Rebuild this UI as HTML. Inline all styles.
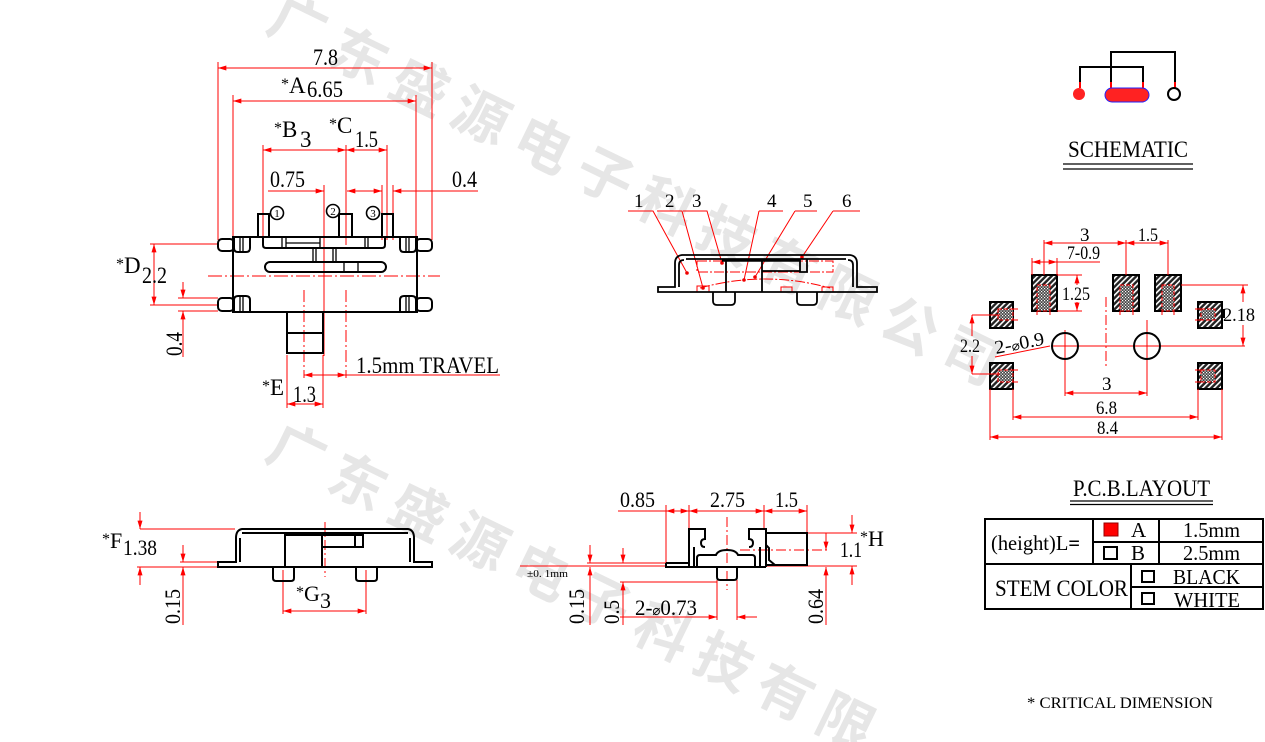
<!DOCTYPE html>
<html><head><meta charset="utf-8">
<style>
html,body{margin:0;padding:0;background:#fff;width:1265px;height:742px;overflow:hidden}
svg{display:block}
.t{font-family:"Liberation Serif","DejaVu Serif",serif;fill:#000}
.wm{font-family:"Noto Sans CJK SC","WenQuanYi Zen Hei",sans-serif;font-weight:700;fill:#e6e6e6}
</style></head><body>
<svg width="1265" height="742" viewBox="0 0 1265 742" xmlns="http://www.w3.org/2000/svg">
<defs>
<marker id="ar" viewBox="0 0 10 6" refX="10" refY="3" markerWidth="9" markerHeight="5" orient="auto-start-reverse" markerUnits="userSpaceOnUse"><path d="M0,0L10,3L0,6z" fill="#f00"/></marker>
<pattern id="hat" width="4" height="4" patternUnits="userSpaceOnUse" patternTransform="rotate(45)"><rect width="4" height="4" fill="#222"/><rect width="1.6" height="4" fill="#fff"/></pattern>
<pattern id="xh" width="3" height="3" patternUnits="userSpaceOnUse"><rect width="3" height="3" fill="#444"/><rect width="1.2" height="1.2" fill="#fff"/><rect x="1.5" y="1.5" width="1.2" height="1.2" fill="#fff"/></pattern>
</defs>

<!-- watermark -->
<g class="wm" font-size="56" text-anchor="middle">
<text transform="translate(298,24) rotate(26)" y="20">广</text>
<text transform="translate(359,56) rotate(26)" y="20">东</text>
<text transform="translate(420,87) rotate(26)" y="20">盛</text>
<text transform="translate(481,116) rotate(26)" y="20">源</text>
<text transform="translate(543,145) rotate(26)" y="20">电</text>
<text transform="translate(605,176) rotate(26)" y="20">子</text>
<text transform="translate(666,206) rotate(26)" y="20">科</text>
<text transform="translate(727,236) rotate(26)" y="20">技</text>
<text transform="translate(788,266) rotate(26)" y="20">有</text>
<text transform="translate(849,296) rotate(26)" y="20">限</text>
<text transform="translate(910,326) rotate(26)" y="20">公</text>
<text transform="translate(971,356) rotate(26)" y="20">司</text>
<text transform="translate(297,452) rotate(26)" y="20">广</text>
<text transform="translate(358,482) rotate(26)" y="20">东</text>
<text transform="translate(419,512) rotate(26)" y="20">盛</text>
<text transform="translate(480,542) rotate(26)" y="20">源</text>
<text transform="translate(541,572) rotate(26)" y="20">电</text>
<text transform="translate(602,602) rotate(26)" y="20">子</text>
<text transform="translate(663,632) rotate(26)" y="20">科</text>
<text transform="translate(724,662) rotate(26)" y="20">技</text>
<text transform="translate(785,692) rotate(26)" y="20">有</text>
<text transform="translate(846,722) rotate(26)" y="20">限</text>
</g>

<!-- ================= TOP-LEFT VIEW ================= -->
<g stroke="#f00" stroke-width="1" fill="none">
<path d="M218,62V240M432,62V240M233,95V238M416,95V238M263,145V240M346,145V245M387,145V240M382,185V240M393,185V240M324,185V356"/>
<path d="M218,68H432" marker-start="url(#ar)" marker-end="url(#ar)"/>
<path d="M233,101H416" marker-start="url(#ar)" marker-end="url(#ar)"/>
<path d="M263,150H346" marker-start="url(#ar)" marker-end="url(#ar)"/>
<path d="M346,150H387" marker-start="url(#ar)" marker-end="url(#ar)"/>
<path d="M268,191H324" marker-end="url(#ar)"/>
<path d="M347,191H382" marker-start="url(#ar)" marker-end="url(#ar)"/>
<path d="M478,191H393" marker-end="url(#ar)"/>
<path d="M208,276H440" stroke-dasharray="14 3 2 3"/>
<path d="M304,290V378M346,290V378" stroke-dasharray="12 3 2 3"/>
<path d="M304,375H346" marker-start="url(#ar)" marker-end="url(#ar)"/>
<path d="M346,375H500"/>
<path d="M287,355V408M323,355V408"/>
<path d="M287,404H323" marker-start="url(#ar)" marker-end="url(#ar)"/>
<path d="M150,244H218M150,305H218M178,298H218M178,311H218"/>
<path d="M154,244V305" marker-start="url(#ar)" marker-end="url(#ar)"/>
<path d="M183,282V298" marker-end="url(#ar)"/>
<path d="M183,357V311" marker-end="url(#ar)"/>
</g>
<g stroke="#000" stroke-width="2" fill="none">
<rect x="233" y="237" width="184" height="75"/>
<rect x="218" y="239" width="16" height="12" rx="4"/>
<rect x="416" y="239" width="16" height="12" rx="4"/>
<rect x="218" y="298" width="16" height="13" rx="4"/>
<rect x="416" y="298" width="16" height="13" rx="4"/>
<path d="M234,238V248Q234,252 238,252H246Q250,252 250,248V238"/>
<path d="M400,238V248Q400,252 404,252H412Q416,252 416,248V238"/>
<path d="M234,312V300Q234,296 238,296H246Q250,296 250,300V312"/>
<path d="M400,312V300Q400,296 404,296H412Q416,296 416,300V312"/>
<path d="M263,237V245Q263,248 266,248H382Q385,248 385,245V237"/>
<rect x="265" y="262" width="121" height="10" rx="5"/>
<path d="M258,237V214H269V237M339,237V214H352V237M382,237V214H393V237"/>
<rect x="287" y="312" width="36" height="41"/>
<path d="M287,333H323"/>
</g>
<g stroke="#000" stroke-width="1.3" fill="none">
<path d="M240,238V252M243,238V252M406,238V252M409,238V252M240,296V312M243,296V312M406,296V312M409,296V312"/>
<path d="M282,237V248M286,237V248M320,237V248M365,237V248M368,237V248M286,243H320"/>
<path d="M313,248V262M316,248V262M333,248V262M336,248V262M344,262V272M358,262V272"/>
</g>
<g stroke="#000" stroke-width="1.6" fill="#fff">
<circle cx="277" cy="213" r="6.5"/>
<circle cx="333" cy="211" r="6.5"/>
<circle cx="373" cy="213" r="6.5"/>
</g>
<g class="t" font-size="11" text-anchor="middle">
<text x="277" y="217">1</text><text x="333" y="215">2</text><text x="373" y="217">3</text>
</g>
<g class="t" font-size="23">
<text x="313" y="65" textLength="25" lengthAdjust="spacingAndGlyphs">7.8</text>
<text x="281" y="93"><tspan font-size="16" dy="-4">*</tspan><tspan dy="4">A</tspan></text>
<text x="307" y="97" textLength="36" lengthAdjust="spacingAndGlyphs">6.65</text>
<text x="274" y="137"><tspan font-size="16" dy="-4">*</tspan><tspan dy="4">B</tspan></text>
<text x="300" y="147">3</text>
<text x="329" y="133"><tspan font-size="16" dy="-4">*</tspan><tspan dy="4">C</tspan></text>
<text x="355" y="147" textLength="23" lengthAdjust="spacingAndGlyphs">1.5</text>
<text x="270" y="187" textLength="35" lengthAdjust="spacingAndGlyphs">0.75</text>
<text x="452" y="187" textLength="25" lengthAdjust="spacingAndGlyphs">0.4</text>
<text x="116" y="273"><tspan font-size="16" dy="-4">*</tspan><tspan dy="4">D</tspan></text>
<text x="142" y="283" textLength="25" lengthAdjust="spacingAndGlyphs">2.2</text>
<text x="356" y="373" textLength="143" lengthAdjust="spacingAndGlyphs">1.5mm TRAVEL</text>
<text x="262" y="395"><tspan font-size="16" dy="-4">*</tspan><tspan dy="4">E</tspan></text>
<text x="293" y="402" textLength="23" lengthAdjust="spacingAndGlyphs">1.3</text>
<text transform="translate(182,356) rotate(-90)" textLength="24" lengthAdjust="spacingAndGlyphs">0.4</text>
</g>

<!-- ================= TOP-MIDDLE VIEW ================= -->
<g stroke="#f00" stroke-width="1" fill="none">
<path d="M628,211H653L687,273M657,211H682L703,288M683,211H707L722,263M759,211H783M759,211L744,280M795,211H817M795,211L755,277M833,211H860M833,211L802,257"/>
<rect x="697" y="261" width="136" height="11" stroke-dasharray="10 2 2 2"/>
<path d="M700,288Q765,270 830,288" stroke-dasharray="10 2 2 2"/>
<rect x="697" y="286" width="12" height="6"/>
<rect x="781" y="287" width="11" height="5"/>
<rect x="822" y="287" width="11" height="5"/>
</g>
<g fill="#e00">
<circle cx="687" cy="273" r="1.8"/><circle cx="703" cy="288" r="1.8"/><circle cx="722" cy="263" r="1.8"/>
<circle cx="744" cy="280" r="1.8"/><circle cx="755" cy="277" r="1.8"/><circle cx="802" cy="257" r="1.8"/>
</g>
<g stroke="#000" stroke-width="1.8" fill="none">
<path d="M658,287H675V263Q675,256 682,255H850Q857,256 857,263V287H877V292H658Z"/>
<path d="M686,259H846M679,287V265Q679,260 684,260M853,287V265Q853,260 848,260"/>
<path d="M726,259V292M762,259V292M762,271H800M800,259V272H807V259"/>
<path d="M713,292V301Q713,305 717,305H731Q735,305 735,301V292"/>
<path d="M797,292V301Q797,305 801,305H813Q817,305 817,301V292"/>
</g>
<path d="M722,260.5H800" stroke="#000" stroke-width="2.5"/>
<g class="t" font-size="19">
<text x="634" y="207">1</text><text x="665" y="207">2</text><text x="692" y="207">3</text>
<text x="767" y="207">4</text><text x="803" y="207">5</text><text x="842" y="207">6</text>
</g>

<!-- ================= SCHEMATIC ================= -->
<path d="M1080,82V67H1143V82M1111,82V52H1175V82" stroke="#000" stroke-width="2" fill="none"/>
<path d="M1080,82V88M1111,82V88M1143,82V88M1175,82V88" stroke="#f00" stroke-width="2"/>
<circle cx="1079" cy="94" r="6" fill="#f22"/>
<rect x="1105" y="88" width="44" height="14" rx="7" fill="#f22" stroke="#22f" stroke-width="1"/>
<circle cx="1174" cy="94" r="6" fill="none" stroke="#000" stroke-width="2"/>
<text class="t" x="1068" y="157" font-size="23" textLength="120" lengthAdjust="spacingAndGlyphs">SCHEMATIC</text>
<path d="M1063,164H1193M1063,169H1193" stroke="#000" stroke-width="1.3"/>

<!-- ================= PCB LAYOUT ================= -->
<g stroke="#000" stroke-width="2" fill="url(#hat)">
<rect x="1032" y="275" width="25" height="36"/>
<rect x="1113" y="275" width="26" height="36"/>
<rect x="1155" y="275" width="26" height="36"/>
<rect x="990" y="302" width="23" height="26"/>
<rect x="1198" y="302" width="24" height="26"/>
<rect x="990" y="363" width="23" height="26"/>
<rect x="1198" y="363" width="24" height="26"/>
</g>
<g stroke="#f00" stroke-width="1" fill="url(#xh)" stroke-dasharray="4 2">
<rect x="1037" y="285" width="13" height="26"/>
<rect x="1120" y="285" width="13" height="26"/>
<rect x="1162" y="285" width="12" height="26"/>
<rect x="998" y="309" width="15" height="11"/>
<rect x="1201" y="309" width="14" height="11"/>
<rect x="998" y="370" width="15" height="12"/>
<rect x="1201" y="370" width="14" height="12"/>
</g>
<rect x="1222" y="309" width="3" height="9" fill="#000"/>
<g stroke="#f00" stroke-width="1" fill="none">
<path d="M1037,311V315M1050,311V315M1120,311V315M1133,311V315M1162,311V315M1174,311V315M1013,309H1018M1013,320H1018M1201,309H1195M1201,320H1195M1013,370H1018M1013,382H1018M1201,370H1195M1201,382H1195"/>
<path d="M1044,240V275M1126,240V275M1168,240V275"/>
<path d="M1044,243H1126" marker-start="url(#ar)" marker-end="url(#ar)"/>
<path d="M1126,243H1168" marker-start="url(#ar)" marker-end="url(#ar)"/>
<path d="M1032,258V275M1057,258V275"/>
<path d="M1032,262H1057" marker-start="url(#ar)" marker-end="url(#ar)"/>
<path d="M1057,262H1100"/>
<path d="M1057,275H1082M1057,311H1082"/>
<path d="M1077,285V275" marker-end="url(#ar)"/>
<path d="M1077,302V311" marker-end="url(#ar)"/>
<path d="M1181,285H1248"/>
<path d="M1243,302V285" marker-end="url(#ar)"/>
<path d="M1243,325V346" marker-end="url(#ar)"/>
<path d="M1052,346H1245"/>
<path d="M1065,330V396M1147,320V396"/>
<path d="M1106,297V367" stroke-dasharray="10 3 2 3"/>
<path d="M972,315H1000M972,374H1000"/>
<path d="M972,336V315" marker-end="url(#ar)"/>
<path d="M972,356V374" marker-end="url(#ar)"/>
<path d="M995,357L1050,346"/>
<path d="M1065,393H1147" marker-start="url(#ar)" marker-end="url(#ar)"/>
<path d="M1013,389V420M1198,389V420M990,389V440M1222,389V440"/>
<path d="M1013,417H1198" marker-start="url(#ar)" marker-end="url(#ar)"/>
<path d="M990,437H1222" marker-start="url(#ar)" marker-end="url(#ar)"/>
</g>
<g stroke="#000" stroke-width="2" fill="none">
<circle cx="1065" cy="346" r="13"/>
<circle cx="1147" cy="346" r="13"/>
</g>
<g class="t" font-size="19">
<text x="1080" y="241">3</text>
<text x="1138" y="241" textLength="20" lengthAdjust="spacingAndGlyphs">1.5</text>
<text x="1067" y="259" textLength="33" lengthAdjust="spacingAndGlyphs">7-0.9</text>
<text x="1062" y="300" textLength="28" lengthAdjust="spacingAndGlyphs">1.25</text>
<text x="1223" y="321" textLength="32" lengthAdjust="spacingAndGlyphs">2.18</text>
<text x="960" y="352" textLength="20" lengthAdjust="spacingAndGlyphs">2.2</text>
<text transform="translate(996,354) rotate(-11)" textLength="50" lengthAdjust="spacingAndGlyphs">2-<tspan font-family="DejaVu Sans" font-size="13">⌀</tspan>0.9</text>
<text x="1102" y="390">3</text>
<text x="1096" y="414" textLength="21" lengthAdjust="spacingAndGlyphs">6.8</text>
<text x="1097" y="434" textLength="21" lengthAdjust="spacingAndGlyphs">8.4</text>
</g>

<!-- ================= BOTTOM-LEFT VIEW ================= -->
<g stroke="#f00" stroke-width="1" fill="none">
<path d="M140,529H235M137,567H237M180,562H218"/>
<path d="M140,512V529" marker-end="url(#ar)"/>
<path d="M140,585V567" marker-end="url(#ar)"/>
<path d="M183,545V562" marker-end="url(#ar)"/>
<path d="M183,625V567" marker-end="url(#ar)"/>
<path d="M283,570V614M366,570V614"/>
<path d="M283,611H366" marker-start="url(#ar)" marker-end="url(#ar)"/>
<path d="M325,522V577" stroke-dasharray="10 3 2 3"/>
</g>
<g stroke="#000" stroke-width="2" fill="none">
<path d="M218,562H236V538Q236,530 242,529H408Q414,530 414,538V562H432V567H218Z"/>
<path d="M242,533H408M240,562V538M410,562V538"/>
<rect x="285" y="535" width="37" height="32"/>
<path d="M322,535H363V547H322M355,535V547"/>
<path d="M273,567V578Q273,581 276,581H291Q294,581 294,578V567"/>
<path d="M356,567V578Q356,581 359,581H374Q377,581 377,578V567"/>
</g>
<g class="t" font-size="22">
<text x="102" y="548"><tspan font-size="16" dy="-4">*</tspan><tspan dy="4">F</tspan></text>
<text x="123" y="555" textLength="34" lengthAdjust="spacingAndGlyphs">1.38</text>
<text transform="translate(180,624) rotate(-90)" textLength="35" lengthAdjust="spacingAndGlyphs">0.15</text>
<text x="296" y="601"><tspan font-size="16" dy="-4">*</tspan><tspan dy="4">G</tspan></text>
<text x="320" y="608">3</text>
</g>

<!-- ================= BOTTOM-MIDDLE VIEW ================= -->
<g stroke="#f00" stroke-width="1" fill="none">
<path d="M618,511H666M666,505V565M689,505V530M764,505V530M807,505V535"/>
<path d="M666,511H689" marker-start="url(#ar)" marker-end="url(#ar)"/>
<path d="M689,511H764" marker-start="url(#ar)" marker-end="url(#ar)"/>
<path d="M764,511H807" marker-start="url(#ar)" marker-end="url(#ar)"/>
<path d="M727,517V590" stroke-dasharray="10 3 2 3"/>
<path d="M520,566H666M587,563H666M620,582H717"/>
<path d="M590,545V563" marker-end="url(#ar)"/>
<path d="M590,625V567" marker-end="url(#ar)"/>
<path d="M623,548V563" marker-end="url(#ar)"/>
<path d="M623,625V582" marker-end="url(#ar)"/>
<path d="M717,580V620M737,580V620"/>
<path d="M620,617H717" marker-end="url(#ar)"/>
<path d="M757,617H737" marker-end="url(#ar)"/>
<path d="M807,533H857M765,566H857"/>
<path d="M852,515V533" marker-end="url(#ar)"/>
<path d="M852,585V566" marker-end="url(#ar)"/>
<path d="M826,533V550" marker-end="url(#ar)"/>
<path d="M740,550H830" stroke-dasharray="10 3 2 3"/>
<path d="M826,625V567" marker-end="url(#ar)"/>
</g>
<g stroke="#000" stroke-width="2" fill="none">
<path d="M666,563H689M666,563V567H766"/>
<path d="M689,567V529H705V539Q701,539 701,543Q701,547 705,547M694,547V567"/>
<path d="M766,567V529H749V539Q753,539 753,543Q753,547 749,547M760,547V567"/>
<path d="M697,567V558Q697,555 700,555H716Q718,550 727,550Q736,550 738,555H752Q755,555 755,558V567"/>
<rect x="766" y="533" width="41" height="32"/>
<path d="M766,545L769,548V560L775,565"/>
<path d="M717,567V577Q717,580 720,580H734Q737,580 737,577V567"/>
</g>
<g class="t" font-size="22">
<text x="620" y="507" textLength="35" lengthAdjust="spacingAndGlyphs">0.85</text>
<text x="710" y="507" textLength="35" lengthAdjust="spacingAndGlyphs">2.75</text>
<text x="775" y="507" textLength="23" lengthAdjust="spacingAndGlyphs">1.5</text>
<text x="527" y="577" font-size="10" textLength="41" lengthAdjust="spacingAndGlyphs">±0. 1mm</text>
<text transform="translate(584,624) rotate(-90)" textLength="35" lengthAdjust="spacingAndGlyphs">0.15</text>
<text transform="translate(619,624) rotate(-90)" textLength="24" lengthAdjust="spacingAndGlyphs">0.5</text>
<text x="635" y="615" textLength="62" lengthAdjust="spacingAndGlyphs">2-<tspan font-family="DejaVu Sans" font-size="14">⌀</tspan>0.73</text>
<text x="840" y="557" textLength="22" lengthAdjust="spacingAndGlyphs">1.1</text>
<text x="860" y="546"><tspan font-size="16" dy="-4">*</tspan><tspan dy="4">H</tspan></text>
<text transform="translate(823,624) rotate(-90)" textLength="35" lengthAdjust="spacingAndGlyphs">0.64</text>
</g>

<!-- ================= TABLE ================= -->
<text class="t" x="1073" y="496" font-size="23" textLength="137" lengthAdjust="spacingAndGlyphs">P.C.B.LAYOUT</text>
<path d="M1070,501H1213M1070,504.5H1213" stroke="#000" stroke-width="1.3"/>
<rect x="985" y="519" width="278" height="90" fill="none" stroke="#000" stroke-width="2"/>
<path d="M985,564H1263M1093,519V564M1159,519V564M1093,542H1263M1131,564V609M1131,587H1263" stroke="#000" stroke-width="2" fill="none"/>
<rect x="1104" y="523" width="14" height="13" fill="#f00" stroke="#900" stroke-width="1"/>
<rect x="1104" y="547" width="13" height="12" fill="none" stroke="#000" stroke-width="2"/>
<rect x="1142" y="571" width="12" height="11" fill="none" stroke="#000" stroke-width="2"/>
<rect x="1142" y="593" width="12" height="11" fill="none" stroke="#000" stroke-width="2"/>
<g class="t" font-size="21">
<text x="991" y="550" textLength="89" lengthAdjust="spacingAndGlyphs">(height)L<tspan font-weight="bold">=</tspan></text>
<text x="1131" y="537">A</text>
<text x="1131" y="560">B</text>
<text x="1183" y="537" textLength="57" lengthAdjust="spacingAndGlyphs">1.5mm</text>
<text x="1183" y="560" textLength="57" lengthAdjust="spacingAndGlyphs">2.5mm</text>
<text x="995" y="596" font-size="23" textLength="133" lengthAdjust="spacingAndGlyphs">STEM  COLOR</text>
<text x="1173" y="584" textLength="67" lengthAdjust="spacingAndGlyphs">BLACK</text>
<text x="1174" y="607" textLength="66" lengthAdjust="spacingAndGlyphs">WHITE</text>
</g>
<text class="t" x="1027" y="708" font-size="16" textLength="186" lengthAdjust="spacingAndGlyphs">* CRITICAL  DIMENSION</text>
</svg>
</body></html>
